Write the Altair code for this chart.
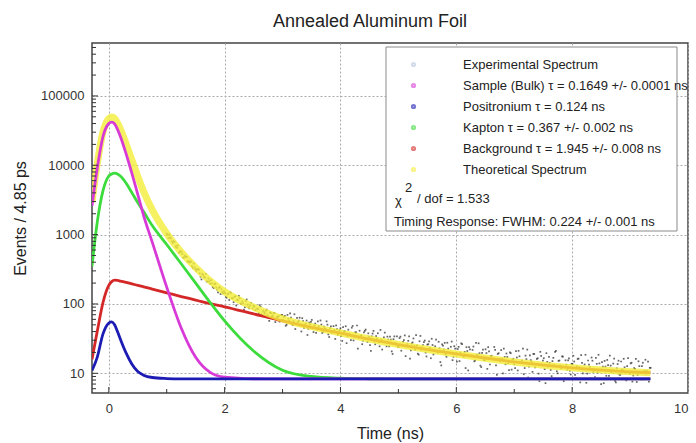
import altair as alt
import pandas as pd

FONT = "Liberation Sans"

# ---- fitted component curves ----
t_curve = [-0.29, -0.2, -0.1, 0.0, 0.05, 0.1, 0.15, 0.2, 0.3, 0.4, 0.5, 0.6, 0.75,
           1.0, 1.25, 1.5, 1.75, 2.0, 2.5, 3.0, 3.5, 4.0, 4.5, 5.0, 6.0, 7.0, 8.0, 9.0, 9.35]
bulk = [2600, 9000, 26000, 40000, 42000, 39500, 33000, 26000, 14500, 7600, 3800, 1900, 780,
        175, 45, 17, 10.3, 8.8, 8.35, 8.3, 8.3, 8.3, 8.3, 8.3, 8.3, 8.3, 8.3, 8.3, 8.3]
positronium = [11, 17, 37, 53, 55, 50, 40, 31, 19.5, 13.5, 10.6, 9.4, 8.7,
               8.4, 8.3, 8.3, 8.3, 8.3, 8.3, 8.3, 8.3, 8.3, 8.3, 8.3, 8.3, 8.3, 8.3, 8.3, 8.3]
kapton = [350, 1500, 4300, 7000, 7500, 7700, 7500, 7000, 5500, 4000, 2900, 2150, 1350,
          720, 380, 200, 105, 57, 21, 11.1, 9.0, 8.5, 8.35, 8.3, 8.3, 8.3, 8.3, 8.3, 8.3]
background = [16, 40, 105, 185, 210, 220, 219, 214, 205, 195, 185, 177, 164,
              145, 128, 114, 101, 91, 72, 57, 46, 38, 31, 26, 19, 14.6, 12.0, 10.5, 10.2]
theoretical = [2950, 10500, 30400, 47200, 49700, 47400, 40700, 33200, 20200, 11800, 6870, 4210, 2280,
               1040, 560, 335, 215, 150, 90, 61, 47, 38.3, 31.2, 26, 19, 14.6, 12.0, 10.5, 10.2]

# ---- experimental spectrum: two interleaved runs of bins, 0.03 ns apart ----
exp_start_a = 1.00
exp_start_b = 1.015
exp_step = 0.03
experimental_a = [
    1035, 892, 910, 802, 806, 670, 646, 547, 576, 525, 471, 480, 406, 399, 411, 328, 339,
    301, 314, 276, 226, 261, 239, 211, 232, 196, 198, 170, 197, 161, 171, 139, 149, 152,
    127, 138, 114, 145, 121, 127, 95, 114, 122, 100, 102, 90, 116, 90, 95, 74, 94, 81.5,
    85.6, 73.4, 91.4, 68.1, 76.4, 79.9, 69, 57, 73.6, 68, 74, 60.7, 65.7, 55.7, 69.7,
    59.3, 67.5, 50.2, 61.4, 73.2, 51.8, 56.4, 43.5, 62.9, 57.5, 50.3, 62.3, 45.2, 52.2, 35.7,
    53.9, 55, 44.4, 49, 38.3, 55.9, 44.2, 50.4, 39.5, 44.4, 56.2, 36.4, 44.5, 38.3, 47.9,
    31.3, 43.4, 39.1,
    44.6, 29.3, 40.2, 47.7, 34.1, 37, 30.2, 48.2, 33.9, 39, 22.7, 41.1, 35.3, 29.6, 41, 31.8,
    37.7, 25.5, 34.1, 40.9, 26.2, 31.3, 28.3, 42.2, 22, 32.9, 28.5, 33.8, 24.5, 30.5, 19,
    34.1, 27.1, 24,
    32.2, 21.2, 28.5, 35.2, 24.4, 29.4, 16.3, 26.9, 31.8, 21.9, 25.2, 18.6, 34.6, 23.6, 28.2,
    19.9, 25.9, 28.9, 16.5, 25.6, 21.7, 30.6, 20, 22.9, 13, 25.1, 27.5, 17.3, 22.7, 19.5,
    28.7, 17.3, 22.7,
    14.7, 24.1, 19.8, 26.4, 17.3, 11.9, 21, 23.8, 17.7, 21.7, 14.9, 27.4, 17.9, 19.5, 12.3,
    22, 15.4, 19.6, 23.8, 13.4, 17.9, 16.3, 21.8, 9.5, 19.5, 14.9, 16.3, 22.7, 13.5, 17.2,
    11.1, 19.5, 15.8,
    13.5, 20.9, 11, 17.6, 14.4, 22.7, 11.9, 16, 8.7, 18.1, 14.6, 19, 12.2, 16.1, 9.9, 20.4,
    13, 16.5, 7.2, 14.6, 17.3, 11.2, 15, 13.1, 21, 10, 15.3, 11.8, 17.4, 8.4, 13.3, 15.4,
    10.9, 13.7,
    17.9, 9.5, 12.6, 16.3, 7.4, 14.1, 11.7, 18.5, 9.9, 13.3, 8.5, 15.2, 11.1, 16.7, 10.3,
    13.9, 7.0, 12.5, 15.1, 9.2, 13.1, 18, 10.4, 13.8, 7.8, 11.8, 15.2, 9.5, 11.3, 16.2, 8.2,
    12.7, 10.5,
    13.9, 7.6, 11.9, 16.2, 9.5, 12.7, 8.2, 14.2, 10.9, 9.9, 14.7, 12,
]
experimental_b = [
    989, 1005, 884, 753, 784, 691, 698, 568, 562, 464, 497, 478, 417, 399, 352, 384, 317,
    317, 314, 247, 272, 244, 271, 211, 212, 220, 176, 192, 173, 147, 175, 163, 142, 143,
    123, 141, 148, 121, 106, 129, 115, 131, 102, 109, 83, 110, 98, 86.5, 104, 86.6, 91.8,
    71.6, 84, 95.8, 71.1, 80.3, 73.4, 82.8, 63.2, 75.2, 66, 74.1, 54.8, 65.2, 67, 56.9, 69.1,
    65.2, 48.5, 69.7, 57.4, 63.7, 49.5, 71, 51.8, 54.7, 63.4, 40.1, 56.6, 49.4, 57.7, 43.8,
    50.6, 58.9, 39.3, 52.2, 42.8, 47.8, 57.8, 38.2, 47.3, 43.2, 50.3, 33.4, 47.4, 39.4, 41.8,
    49, 35.8, 41.8,
    34.4, 46.2, 40.2, 27.2, 42.6, 35.7, 45.5, 29.8, 38.9, 48.9, 32.5, 34.5, 26.3, 39, 42.7,
    28.4, 33.7, 21, 37.4, 28.8, 34.4, 37.8, 24.5, 30.6, 28.2, 38.6, 24.5, 30.7, 33.9, 20.7,
    31.1, 26.9, 34.2, 24,
    33.8, 25.5, 30.1, 17.7, 26.5, 34.1, 21.4, 27.9, 24.6, 35.5, 19.2, 29, 21.9, 25.6, 29.7,
    17.5, 26.3, 23.3, 31.5, 18.7, 24.5, 20.6, 28.5, 14.5, 26.2, 22, 18.8, 27.6, 19.7, 24.1,
    15.5, 24.6, 19.4,
    22.4, 15, 27, 17.9, 20.4, 23.8, 11, 22.1, 18.1, 24.3, 15.3, 18.6, 27.1, 12.9, 19.7, 15.5,
    22.2, 11.6, 20.7, 17.7, 16, 24, 13, 19, 16.2, 21.6, 10, 17.2, 19.3, 14, 20, 11.3, 16.2,
    11.9, 16.9, 21.1, 14.1, 15.2, 9.7, 18, 22, 12.5, 15.5, 10.5, 19, 13.7, 16.5, 7.7, 17.8,
    15.2, 11.5, 19.5, 12.5, 14.1, 9.1, 16.7, 20.3, 10.7, 15.1, 12.9, 17.5, 7.7, 15.4, 11.3,
    16.4, 9.6, 13.7,
    14.8, 8.5, 16.1, 12.2, 18.3, 10, 13.4, 7.3, 15.3, 12.3, 16.9, 10.5, 8.8, 13.7, 18.5, 11,
    14.5, 7.2, 12.5, 15.6, 9.2, 12.9, 11, 16.3, 7.4, 13.6, 9.6, 14.8, 11, 12.2, 7.9, 16.6, 9.9,
    14.2, 9.3, 11.6, 7.5, 14.9, 10.3, 12.7, 8.2, 15.7, 10.8, 7.6, 12,
]

series_names = [
    "Experimental Spectrum",
    "Sample (Bulk) τ = 0.1649 +/- 0.0001 ns",
    "Positronium τ = 0.124 ns",
    "Kapton τ = 0.367 +/- 0.002 ns",
    "Background τ = 1.945 +/- 0.008 ns",
    "Theoretical Spectrum",
]
series_colors = ["#b8c8dc", "#d83ad8", "#1c1cb4", "#3cdc3c", "#d42828", "#f4ee38"]

x_ticks_major = [0, 2, 4, 6, 8]
x_ticks_minor = [1, 3, 5, 7, 9]
y_ticks_major = [10, 100, 1000, 10000, 100000]
y_ticks_minor = [6, 7, 8, 9, 20, 30, 40, 50, 60, 70, 80, 90, 200, 300, 400, 500, 600, 700, 800, 900,
                 2000, 3000, 4000, 5000, 6000, 7000, 8000, 9000, 20000, 30000, 40000, 50000, 60000,
                 70000, 80000, 90000, 200000, 300000, 400000, 500000]

chi_text = "/ dof = 1.533"
timing_text = "Timing Response: FWHM: 0.224 +/- 0.001 ns"

# ---- scales / axes ----
x_scale = alt.Scale(domain=[-0.29, 10], nice=False, zero=False)
y_scale = alt.Scale(type="log", domain=[5.2, 580000], nice=False)
x_axis = alt.Axis(values=[0, 2, 4, 6, 8, 10], format="d", title="Time (ns)", ticks=False,
                  domain=False, grid=True, gridDash=[2, 2], gridColor="#aaaaaa", labelPadding=9,
                  titlePadding=10)
y_axis = alt.Axis(values=y_ticks_major, format="d", title="Events / 4.85 ps", ticks=False,
                  domain=False, grid=True, gridDash=[2, 2], gridColor="#aaaaaa",
                  labelPadding=8, titlePadding=12)
color_scale = alt.Scale(domain=series_names, range=series_colors)
legend = alt.Legend(orient="none", legendX=315, legendY=15, title=None, labelFontSize=13,
                    labelFont=FONT, labelColor="#222222", labelLimit=0, symbolType="circle",
                    symbolSize=5, symbolStrokeWidth=3, symbolOpacity=0.6, rowPadding=6,
                    labelOffset=43, padding=0)


def line_layer(vals, name, width, opacity=1.0):
    df = pd.DataFrame({"t": t_curve, "v": vals, "series": name})
    return alt.Chart(df).mark_line(strokeWidth=width, opacity=opacity, interpolate="monotone",
                                   clip=True).encode(
        x=alt.X("t:Q", scale=x_scale, axis=x_axis),
        y=alt.Y("v:Q", scale=y_scale, axis=y_axis),
        color=alt.Color("series:N", scale=color_scale, legend=legend),
    )


exp_df = pd.DataFrame({
    "t": [round(exp_start_a + exp_step * i, 3) for i in range(len(experimental_a))]
         + [round(exp_start_b + exp_step * i, 3) for i in range(len(experimental_b))],
    "v": experimental_a + experimental_b,
})
dots = alt.Chart(exp_df).mark_square(size=3, opacity=0.75, clip=True).encode(
    x=alt.X("t:Q", scale=x_scale, axis=x_axis),
    y=alt.Y("v:Q", scale=y_scale, axis=y_axis),
    color=alt.value("#333333"),
)

yellow = line_layer(theoretical, series_names[5], 7, 0.8)
magenta = line_layer(bulk, series_names[1], 2.8)
green = line_layer(kapton, series_names[3], 2.8)
red = line_layer(background, series_names[4], 2.8)
blue = line_layer(positronium, series_names[2], 2.8)

xt_major = alt.Chart(pd.DataFrame({"t": x_ticks_major})).mark_rule(color="#333333", strokeWidth=1).encode(
    x=alt.X("t:Q", scale=x_scale), y=alt.value(350), y2=alt.value(344))
xt_minor = alt.Chart(pd.DataFrame({"t": x_ticks_minor})).mark_rule(color="#333333", strokeWidth=1).encode(
    x=alt.X("t:Q", scale=x_scale), y=alt.value(350), y2=alt.value(346))
yt_major = alt.Chart(pd.DataFrame({"v": y_ticks_major})).mark_rule(color="#333333", strokeWidth=1).encode(
    y=alt.Y("v:Q", scale=y_scale), x=alt.value(0), x2=alt.value(6))
yt_minor = alt.Chart(pd.DataFrame({"v": y_ticks_minor})).mark_rule(color="#333333", strokeWidth=1).encode(
    y=alt.Y("v:Q", scale=y_scale), x=alt.value(0), x2=alt.value(4))

one = pd.DataFrame({"k": [0]})
box = alt.Chart(one).mark_rect(fill="white", stroke="#8a8a8a", strokeWidth=1).encode(
    x=alt.value(294), x2=alt.value(585), y=alt.value(4), y2=alt.value(188))
chi = alt.Chart(one).mark_text(text="χ", font=FONT, fontSize=13, align="left", color="#222222").encode(
    x=alt.value(303), y=alt.value(158))
chi_sup = alt.Chart(one).mark_text(text="2", font=FONT, fontSize=13, align="left", color="#222222").encode(
    x=alt.value(313), y=alt.value(145))
chi_rest = alt.Chart(one).mark_text(text=chi_text, font=FONT, fontSize=13, align="left", color="#222222").encode(
    x=alt.value(325), y=alt.value(156))
timing = alt.Chart(one).mark_text(text=timing_text, font=FONT, fontSize=13, align="left", color="#222222").encode(
    x=alt.value(302), y=alt.value(179))

chart = alt.layer(
    dots, red, yellow, green, magenta, blue,
    xt_major, xt_minor, yt_major, yt_minor,
    box, chi, chi_sup, chi_rest, timing,
).properties(
    width=596, height=350,
    title=alt.TitleParams("Annealed Aluminum Foil", fontSize=18, font=FONT, fontWeight="normal",
                          color="#222222", anchor="middle", dx=-20, offset=12),
    autosize=alt.AutoSizeParams(type="none"),
    padding={"left": 92, "top": 43, "right": 8, "bottom": 50},
).configure_view(
    stroke="#444444", strokeWidth=1.5
).configure_axis(
    labelFont=FONT, labelFontSize=13, labelColor="#333333",
    titleFont=FONT, titleFontSize=16, titleFontWeight="normal", titleColor="#222222",
)

chart.save("out.html", embed_options={"renderer": "svg", "actions": False})
